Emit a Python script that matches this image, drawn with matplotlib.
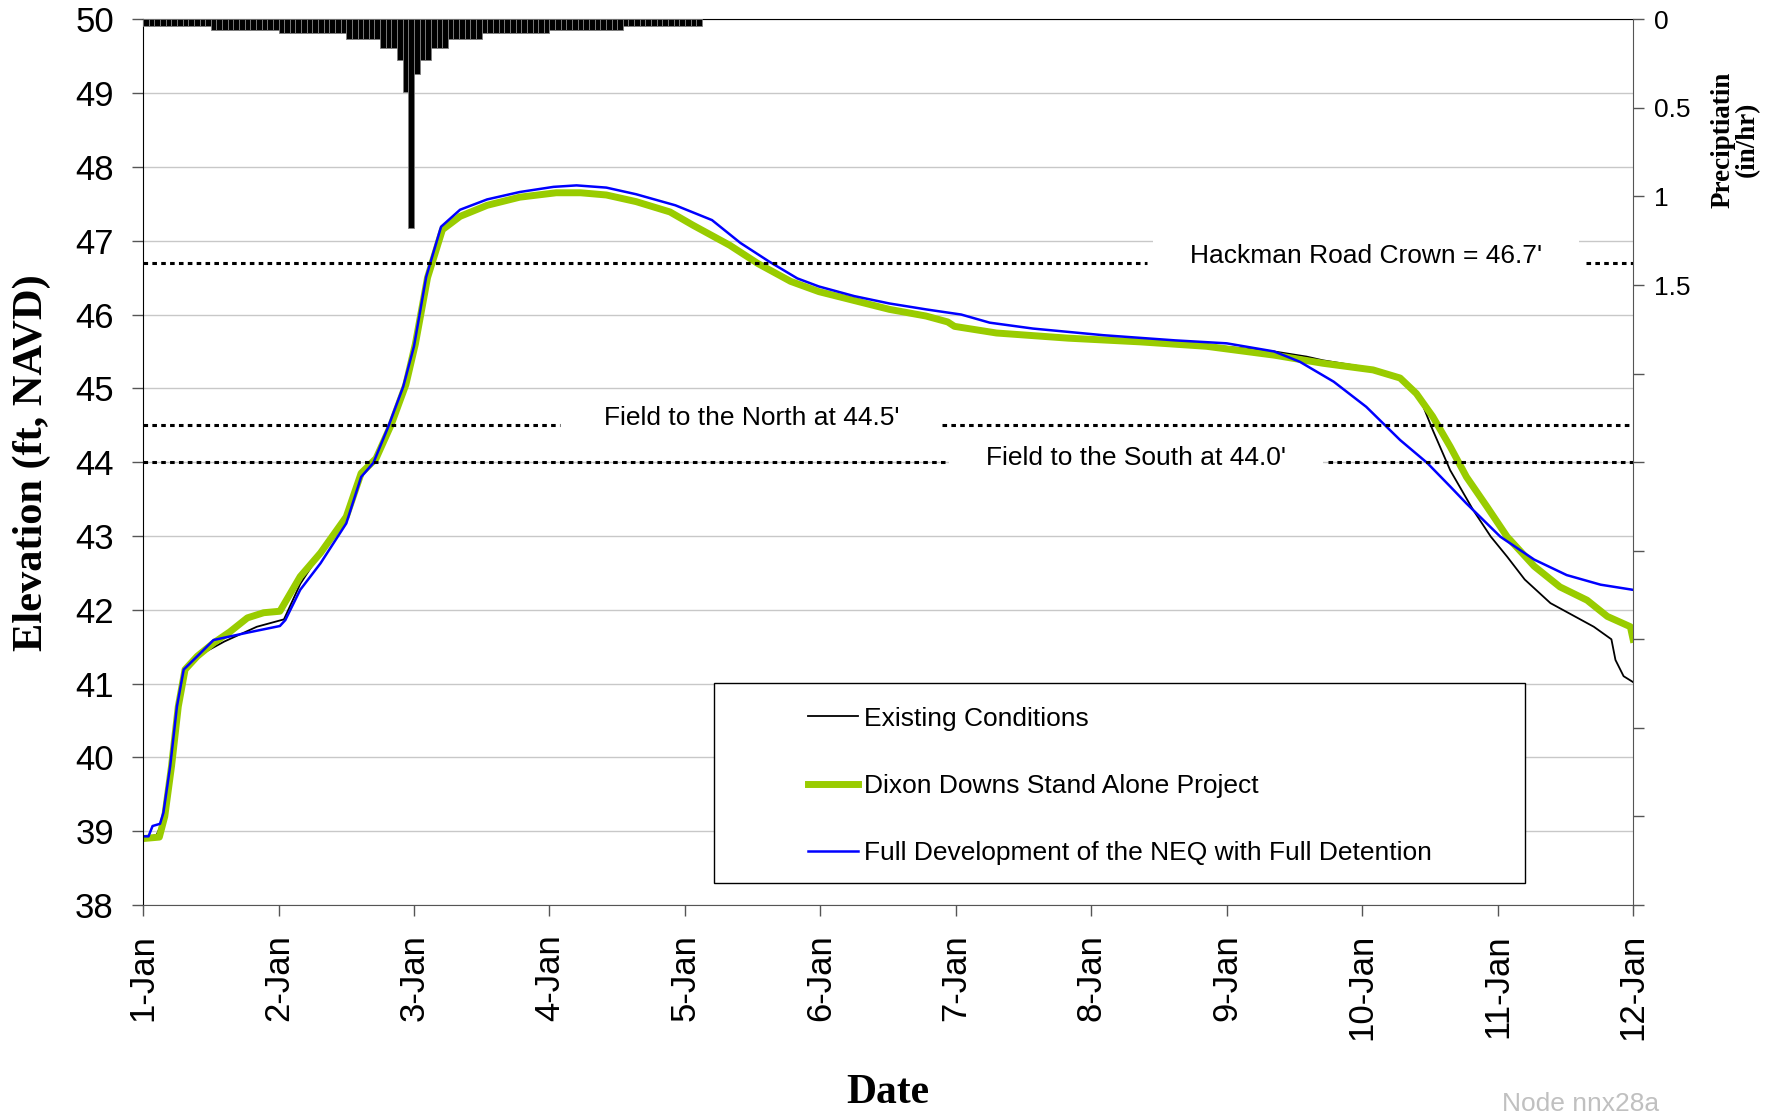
import numpy as np
import matplotlib
matplotlib.use('Agg')
import matplotlib.pyplot as plt
from matplotlib.lines import Line2D
from matplotlib.patches import Rectangle

plt.rcParams['font.family'] = ['Liberation Sans', 'DejaVu Sans']

## x axis: days after 1-Jan
date_labels = ['1-Jan', '2-Jan', '3-Jan', '4-Jan', '5-Jan', '6-Jan',
               '7-Jan', '8-Jan', '9-Jan', '10-Jan', '11-Jan', '12-Jan']

## Existing Conditions (black)
days_exist = [0, 0.10, 0.16, 0.21, 0.26, 0.31, 0.40, 0.60, 0.84, 1.04,
              1.16, 1.31, 1.50, 1.61, 1.72, 1.83, 1.94, 2.01, 2.10, 2.21,
              2.34, 2.54, 2.78, 3.05, 3.23, 3.42, 3.64, 3.89, 4.06, 4.33,
              4.54, 4.78, 4.99, 5.25, 5.51, 5.78, 5.94, 5.99, 6.30, 6.83,
              7.36, 7.85, 8.35, 8.59, 8.71, 9.08, 9.28, 9.43, 9.52, 9.65,
              9.82, 9.95, 10.07, 10.20, 10.39, 10.71, 10.84, 10.87, 10.93, 11.00]
elev_exist = [38.90, 38.95, 39.20, 39.88, 40.69, 41.19, 41.37, 41.57, 41.77, 41.87,
              42.35, 42.77, 43.26, 43.85, 44.05, 44.50, 45.05, 45.60, 46.50, 47.15,
              47.33, 47.48, 47.59, 47.65, 47.65, 47.62, 47.53, 47.39, 47.21, 46.94,
              46.69, 46.45, 46.31, 46.19, 46.07, 45.98, 45.90, 45.84, 45.75, 45.68,
              45.64, 45.59, 45.50, 45.43, 45.38, 45.27, 45.14, 44.85, 44.44, 43.89,
              43.35, 42.99, 42.72, 42.41, 42.09, 41.77, 41.60, 41.32, 41.10, 41.02]

## Dixon Downs Stand Alone Project (green)
days_dixon = [0, 0.12, 0.16, 0.21, 0.26, 0.31, 0.40, 0.52, 0.64, 0.77,
              0.89, 1.01, 1.16, 1.31, 1.50, 1.61, 1.72, 1.83, 1.94, 2.01,
              2.10, 2.21, 2.34, 2.54, 2.78, 3.05, 3.23, 3.42, 3.64, 3.89,
              4.06, 4.33, 4.54, 4.78, 4.99, 5.25, 5.51, 5.78, 5.94, 5.99,
              6.30, 6.83, 7.36, 7.85, 8.35, 8.71, 9.08, 9.28, 9.40, 9.52,
              9.65, 9.77, 9.92, 10.07, 10.27, 10.46, 10.66, 10.81, 10.98, 11.00]
elev_dixon = [38.90, 38.92, 39.20, 39.88, 40.69, 41.19, 41.37, 41.55, 41.70, 41.89,
              41.96, 41.98, 42.45, 42.77, 43.26, 43.85, 44.05, 44.50, 45.05, 45.60,
              46.50, 47.15, 47.33, 47.48, 47.59, 47.65, 47.65, 47.62, 47.53, 47.39,
              47.21, 46.94, 46.69, 46.45, 46.31, 46.19, 46.07, 45.98, 45.90, 45.84,
              45.75, 45.68, 45.63, 45.57, 45.45, 45.34, 45.25, 45.14, 44.93, 44.62,
              44.21, 43.80, 43.40, 42.99, 42.59, 42.31, 42.13, 41.91, 41.77, 41.60]

## Full Development of the NEQ with Full Detention (blue)
days_full = [0, 0.04, 0.07, 0.125, 0.15, 0.20, 0.25, 0.30, 0.40, 0.52,
             0.77, 1.01, 1.05, 1.16, 1.31, 1.50, 1.61, 1.70, 1.81, 1.92,
             2.00, 2.09, 2.20, 2.34, 2.54, 2.78, 3.03, 3.20, 3.42, 3.64,
             3.93, 4.20, 4.41, 4.62, 4.83, 4.99, 5.25, 5.51, 5.78, 6.04,
             6.25, 6.57, 7.09, 7.62, 8.00, 8.35, 8.54, 8.79, 9.03, 9.28,
             9.48, 9.65, 9.77, 10.02, 10.27, 10.51, 10.76, 11.00]
elev_full = [38.93, 38.93, 39.07, 39.10, 39.25, 39.88, 40.69, 41.19, 41.37, 41.59,
             41.69, 41.78, 41.86, 42.27, 42.63, 43.17, 43.80, 43.99, 44.48, 45.02,
             45.57, 46.51, 47.19, 47.42, 47.56, 47.66, 47.73, 47.75, 47.72, 47.63,
             47.48, 47.28, 46.97, 46.72, 46.49, 46.38, 46.25, 46.15, 46.07, 46.00,
             45.89, 45.81, 45.72, 45.65, 45.61, 45.50, 45.36, 45.09, 44.75, 44.30,
             43.99, 43.67, 43.44, 42.99, 42.68, 42.47, 42.34, 42.27]

## hourly precipitation (in/hr), starting 1-Jan 00:00
precip = [0.038, 0.038, 0.038, 0.038, 0.038, 0.038, 0.038, 0.038, 0.038, 0.038, 0.038, 0.038,
          0.06, 0.06, 0.06, 0.06, 0.06, 0.06, 0.06, 0.06, 0.06, 0.06, 0.06, 0.06,
          0.08, 0.08, 0.08, 0.08, 0.08, 0.08, 0.08, 0.08, 0.08, 0.08, 0.08, 0.08,
          0.11, 0.11, 0.11, 0.11, 0.11, 0.11,
          0.16, 0.16, 0.16,
          0.23, 0.41, 1.18, 0.31, 0.23, 0.23,
          0.16, 0.16, 0.16,
          0.11, 0.11, 0.11, 0.11, 0.11, 0.11,
          0.08, 0.08, 0.08, 0.08, 0.08, 0.08, 0.08, 0.08, 0.08, 0.08, 0.08, 0.08,
          0.06, 0.06, 0.06, 0.06, 0.06, 0.06, 0.06, 0.06, 0.06, 0.06, 0.06, 0.06, 0.06,
          0.038, 0.038, 0.038, 0.038, 0.038, 0.038, 0.038, 0.038, 0.038, 0.038, 0.038, 0.038, 0.038, 0.038]
precip_hours = np.arange(len(precip))

## reference elevations
ref_levels = [46.7, 44.5, 44.0]
ref_labels = ["Hackman Road Crown = 46.7'", "Field to the North at 44.5'", "Field to the South at 44.0'"]

series_names = ['Existing Conditions', 'Dixon Downs Stand Alone Project',
                'Full Development of the NEQ with Full Detention']
c_exist, c_dixon, c_full = 'black', '#99cc00', '#0000ff'

fig = plt.figure(figsize=(17.84, 11.17), dpi=100)
ax = fig.add_axes([0.0802, 0.1898, 0.8352, 0.7929])

ax.plot(days_exist, elev_exist, color=c_exist, lw=1.3, zorder=2)
ax.plot(days_dixon, elev_dixon, color=c_dixon, lw=5.0, zorder=2.1)
ax.plot(days_full, elev_full, color=c_full, lw=1.8, zorder=2.2)

## dashed reference lines, broken where the labels sit
segments = [[(0, 7.41), (10.65, 11)], [(0, 3.08), (5.90, 11)], [(0, 5.92), (8.75, 11)]]
for lvl, segs in zip(ref_levels, segments):
    for x0, x1 in segs:
        ax.plot([x0, x1], [lvl, lvl], color='black', lw=2.2, ls=(0, (1.5, 1.4)), zorder=5)

label_pos = [(9.03, 46.79), (4.49, 44.60), (7.33, 44.05)]
label_pad = [1.4, None, 1.4]
for txt, (x, y), pad in zip(ref_labels, label_pos, label_pad):
    bb = dict(boxstyle='square,pad=%s' % pad, fc='white', ec='none') if pad else None
    ax.text(x, y, txt, fontsize=19, ha='center', va='center', bbox=bb, zorder=4)

ax.set_xlim(0, 11)
ax.set_ylim(38, 50)
ax.set_yticks(range(38, 51))
ax.set_xticks(range(12))
ax.set_xticklabels(date_labels, rotation=90)
ax.tick_params(labelsize=25, length=8, width=1, color='#555555', pad=13)
ax.grid(axis='y', color='#c8c8c8', lw=1)
ax.set_axisbelow(True)
ax.spines['right'].set_visible(False)
ax.spines['bottom'].set_color('#555555')

ax.set_ylabel('Elevation (ft, NAVD)', fontsize=30.5, fontweight='bold', family='Liberation Serif')
ax.yaxis.set_label_coords(-0.062, 0.5)
ax.set_xlabel('Date', fontsize=30, fontweight='bold', family='Liberation Serif')
ax.xaxis.set_label_coords(0.5, -0.191)

## legend with a wide white frame
ax.add_patch(Rectangle((0.3835, 0.0244), 0.5439, 0.2262, transform=ax.transAxes,
                       fc='white', ec='black', lw=1, zorder=5))
handles = [Line2D([], [], color=c_exist, lw=1.3),
           Line2D([], [], color=c_dixon, lw=5.0),
           Line2D([], [], color=c_full, lw=1.8)]
leg = ax.legend(handles, series_names, loc='upper left', bbox_to_anchor=(0.446, 0.224),
                frameon=False, fontsize=19, borderpad=0, borderaxespad=0,
                handlelength=1.9, handletextpad=0.25, labelspacing=1.64)
leg.set_zorder(6)

## precipitation on inverted right axis
ax2 = ax.twinx()
ax2.bar(precip_hours / 24.0, precip, width=1 / 24.0, align='edge',
        color='black', edgecolor='#808080', lw=0.6)
ax2.set_ylim(5, 0)
ax2.set_xlim(0, 11)
rticks = np.arange(0, 5.01, 0.5)
ax2.set_yticks(rticks)
ax2.set_yticklabels(['0', '0.5', '1', '1.5'] + [''] * (len(rticks) - 4))
ax2.tick_params(labelsize=19, length=8, width=1, color='#555555', pad=7)
for s in ['top', 'left', 'bottom']:
    ax2.spines[s].set_visible(False)
ax2.spines['right'].set_color('#555555')

fig.text(0.9726, 0.875, 'Preciptiatin\n(in/hr)', rotation=90, ha='center', va='center',
         fontsize=19.5, fontweight='bold', family='Liberation Serif', linespacing=1.0)
fig.text(0.930, 0.0116, 'Node nnx28a', ha='right', va='center', fontsize=19, color='#c0c0c0')

fig.savefig('out.png', dpi=100)
